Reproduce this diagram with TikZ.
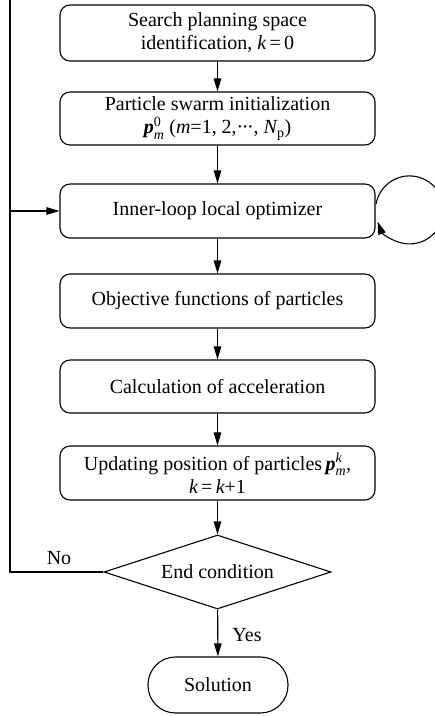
\documentclass[tikz,border=0pt]{standalone}
\usepackage{amsmath}
\usepackage{fontspec}
\setmainfont{Liberation Serif}
\usetikzlibrary{arrows.meta,shapes.geometric}
% bold italic particle vector and italic letters in text font
\newcommand{\pvec}{\text{\bfseries\itshape p}}
\newcommand{\itl}[1]{\text{\itshape #1}}
\newcommand{\cdotsthree}{·\kern-1.5pt·\kern-1.5pt·}
\begin{document}
\begin{tikzpicture}[x=1pt,y=-1pt,
  line width=1.1pt,
  >={Triangle[length=13pt,width=7.5pt]},
  txt/.style={font=\fontsize{20}{23}\selectfont},
  procbox/.style={draw, rounded corners=10pt, minimum width=315pt,
    align=center, inner sep=0pt, txt},
  decision/.style={draw, diamond, aspect=3.07, minimum width=227pt,
    minimum height=74pt, inner sep=0pt, txt},
  terminal/.style={draw, rounded corners=27.5pt, minimum width=140pt,
    minimum height=56pt, inner sep=0pt, txt},
  lbl/.style={txt, inner sep=0pt}]
\useasboundingbox (0,0) rectangle (435,716);

% process steps
\node[procbox, minimum height=56pt] (b1) at (217.5,33)
  {Search planning space\\identification, \itl{k}\,=\,0};
\node[procbox, minimum height=53pt] (b2) at (217.5,118.5)
  {Particle swarm initialization\\$\pvec^{\text{0}}_{\itl{m}}$ (\itl{m}=1, 2,\cdotsthree, \itl{N}$_{\text{p}}$)};
\node[procbox, minimum height=54pt] (b3) at (217.5,211)
  {Inner-loop local optimizer};
\node[procbox, minimum height=54pt] (b4) at (217.5,301)
  {Objective functions of particles};
\node[procbox, minimum height=53pt] (b5) at (217.5,386.5)
  {Calculation of acceleration};
\node[procbox, minimum height=54pt] (b6) at (217.5,473)
  {Updating position of particles\,$\pvec^{\itl{k}}_{\itl{m}}$,\\\itl{k}\,=\,\itl{k}+1};
\node[decision] (dec) at (217.5,572) {End condition};
\node[terminal] (sol) at (218,685) {Solution};

% main flow
\draw[->] (b1) -- (b2);
\draw[->] (b2) -- (b3);
\draw[->] (b3) -- (b4);
\draw[->] (b4) -- (b5);
\draw[->] (b5) -- (b6);
\draw[->] (b6) -- (dec);
\draw[->] (dec) -- (sol);

% feedback branch
\coordinate (ltop) at (10,0);
\coordinate (lbot) at (10,572);
\coordinate (lmid) at (10,211);
\draw (dec.west) -- (lbot) -- (ltop);
\draw[->] (lmid) -- (b3.west);

% inner loop
\draw[->] ([shift={(0.5,-7)}]b3.east) arc[start angle=190, end angle=520, radius=34];

% branch labels
\node[lbl] (no) at (59,558) {No};
\node[lbl] (yes) at (247,635) {Yes};
\end{tikzpicture}
\end{document}
